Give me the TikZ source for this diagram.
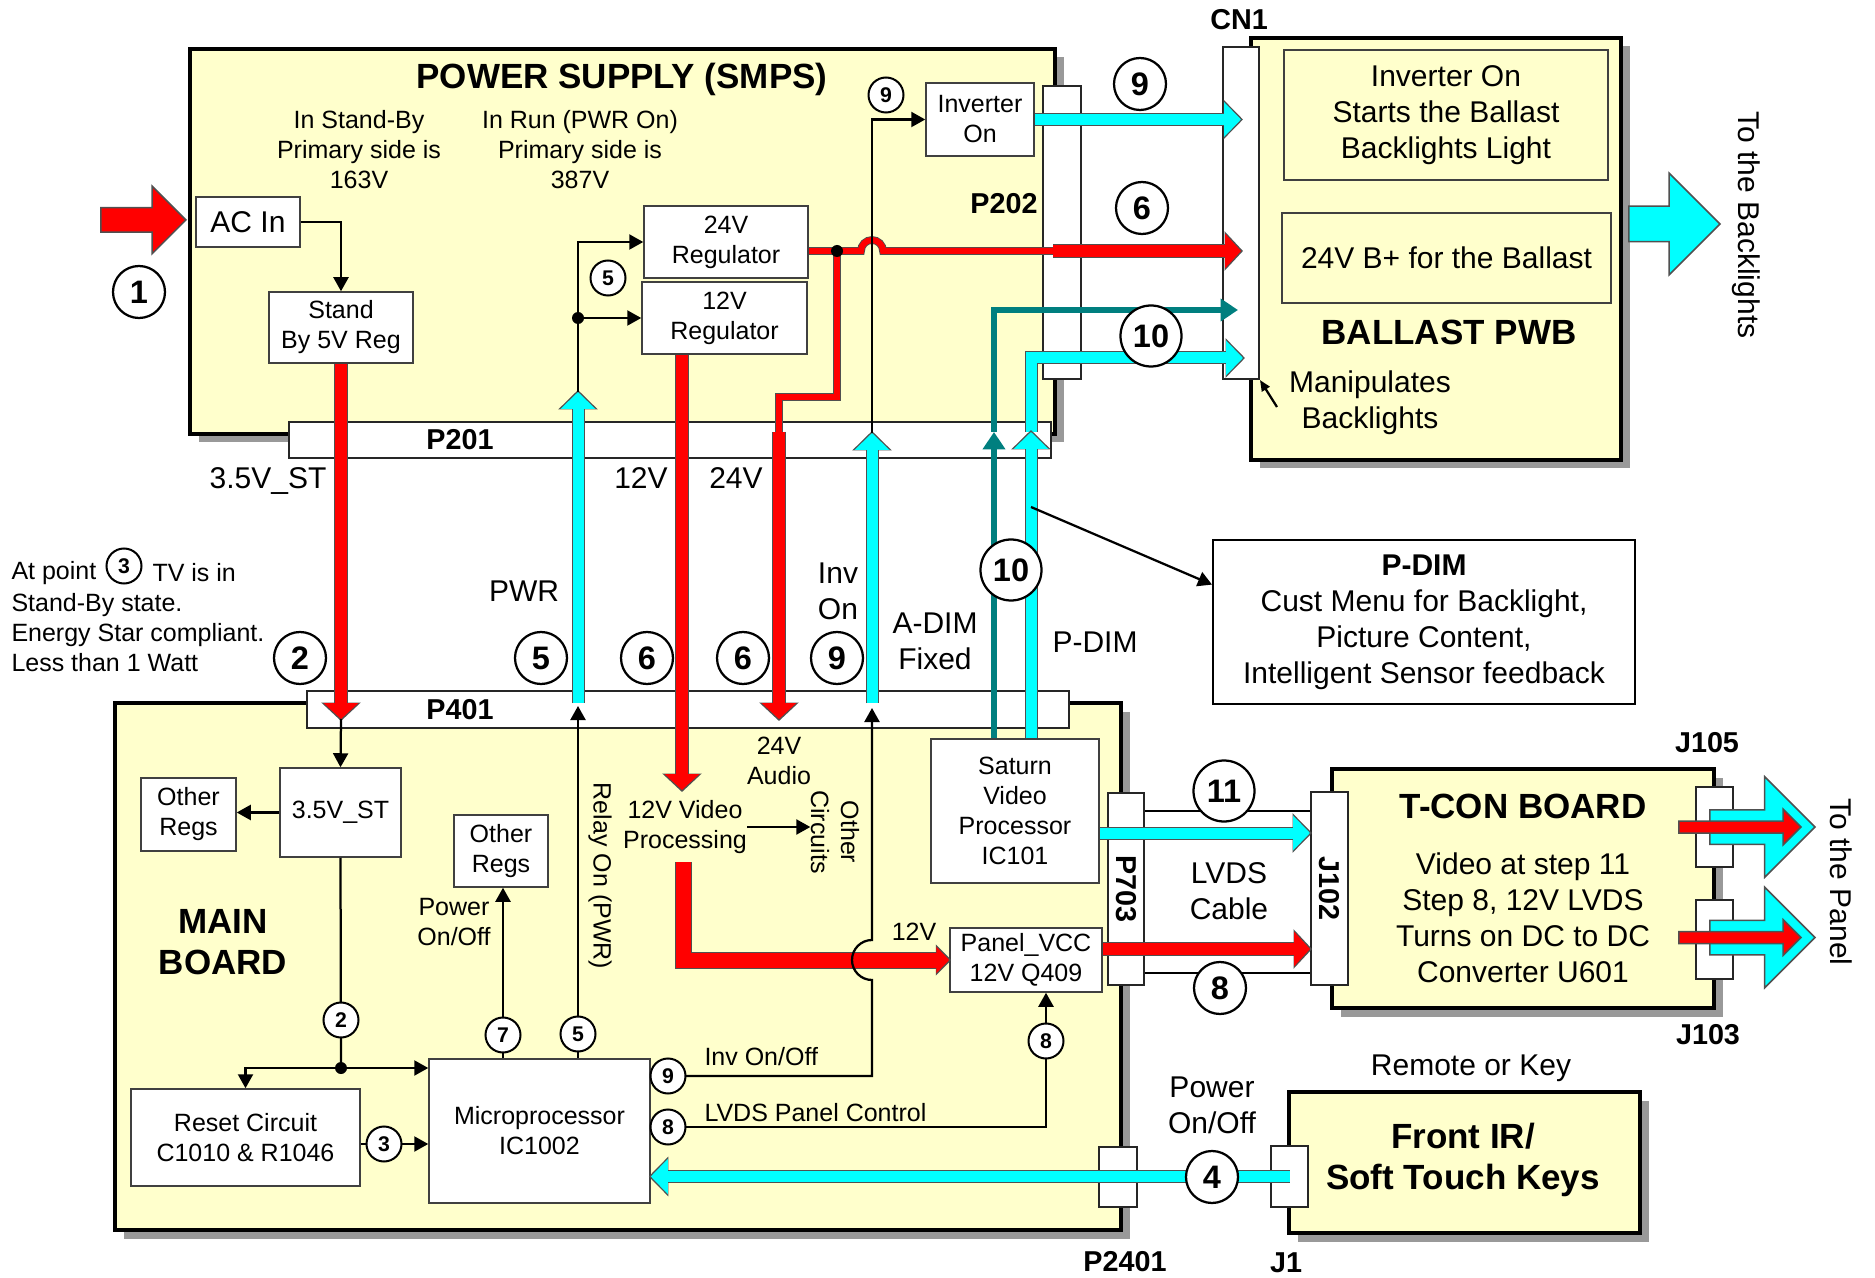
\documentclass[tikz,border=0pt]{standalone}
\usepackage{fontspec}
\setmainfont{Liberation Sans}
\usetikzlibrary{arrows.meta,shapes.arrows,calc}
\definecolor{bd}{HTML}{FFFFCC}
\definecolor{sh}{HTML}{999999}
\definecolor{ol}{HTML}{404040}
\definecolor{rd}{HTML}{FF0000}
\definecolor{cy}{HTML}{00FFFF}
\definecolor{tl}{HTML}{007F7F}
\definecolor{eg}{HTML}{505050}
\newcommand{\fsm}{\fontsize{10pt}{12pt}\selectfont}
\newcommand{\fmd}{\fontsize{12pt}{14.4pt}\selectfont}
\newcommand{\fbg}{\fontsize{14pt}{16.4pt}\selectfont\bfseries}
\newcommand{\fcn}{\fontsize{11.5pt}{13pt}\selectfont\bfseries}
\newcommand{\fnb}{\fontsize{13pt}{14pt}\selectfont\bfseries}
\newcommand{\fns}{\fontsize{8.5pt}{10pt}\selectfont\bfseries}
\pgfdeclarelayer{fg}
\pgfsetlayers{main,fg}
\tikzset{
  wh/.style 2 args={minimum width=#1*0.4pt, minimum height=#2*0.4pt},
  board/.style={draw=black, line width=1.3pt, fill=bd, inner sep=0pt,
    preaction={fill=sh, transform canvas={xshift=3.4pt,yshift=-3.4pt}}},
  wbox/.style={draw=ol, line width=0.6pt, fill=white, inner sep=0pt, align=center, font=\fsm},
  ybox/.style={wbox, fill=bd, font=\fmd},
  plug/.style={draw=black!85, line width=0.8pt, fill=white, inner sep=0pt},
  lbl/.style={inner sep=0pt, align=center, font=\fmd},
  slbl/.style={inner sep=0pt, align=center, font=\fsm},
  clbl/.style={inner sep=0pt, font=\fcn},
  tlbl/.style={inner sep=0pt, align=center, font=\fbg},
  wire/.style={draw=black, line width=0.9pt},
  conn/.style={wire, -{Triangle[length=5.6pt,width=6pt]}},
  numb/.style={circle, draw=black, line width=0.9pt, fill=white, inner sep=0pt,
    minimum size=52*0.4pt, font=\fnb},
  numbw/.style={numb, minimum size=61*0.4pt},
  nums/.style={circle, draw=black, line width=0.8pt, fill=white, inner sep=0pt,
    minimum size=35*0.4pt, font=\fns},
  redbus/.style={draw=rd, line width=4.8pt, -{Triangle[length=6.4pt,width=13.6pt]},
    preaction={draw=eg, line width=5.6pt, shorten >=-0.8pt,
      -{Triangle[length=7.4pt,width=15.4pt]}}},
  cyanbus/.style={draw=cy, line width=4.4pt, -{Triangle[length=6.8pt,width=13.6pt]},
    preaction={draw=eg, line width=5.2pt, shorten >=-0.8pt,
      -{Triangle[length=7.8pt,width=15.4pt]}}},
  tealbus/.style={draw=tl, line width=2.4pt, -{Triangle[length=7pt,width=8.8pt]}},
  redthin/.style={draw=rd, line width=2.4pt, preaction={draw=eg, line width=3.1pt}},
  redwide/.style={draw=rd, line width=6pt, -{Triangle[length=5.2pt,width=10.4pt]},
    preaction={draw=eg, line width=6.8pt, shorten >=-0.8pt,
      -{Triangle[length=6.2pt,width=12.2pt]}}},
  fatarrow/.style={single arrow, single arrow head indent=0pt, inner xsep=0pt,
    draw=eg, line width=0.6pt, anchor=tip},
}

\begin{document}
\begin{tikzpicture}[x=0.4pt,y=-0.4pt]
  \useasboundingbox[fill=white] (0,0) rectangle (1875,1278);
  % boards
  \node[board, wh={865}{385}] (ps) at (622.5,241.5) {};
  \node[board, wh={370}{422}] (ballast) at (1436,249) {};
  \node[board, wh={1006}{527}] (mainb) at (618,966.5) {};
  \node[board, wh={382}{239}] (tcon) at (1523,888.5) {};
  \node[board, wh={351}{141}] (front) at (1464.5,1162.5) {};
  \node[wbox, draw=black, line width=0.8pt, font=\fmd, wh={422}{164}] (pdim) at (1424,622)
    {\textbf{P-DIM}\\Cust Menu for Backlight,\\Picture Content,\\Intelligent Sensor feedback};
  \node[tlbl] (pst) at (622,79) {POWER SUPPLY (SMPS)};
  \node[tlbl] (blt) at (1449,332) {BALLAST PWB};
  \node[tlbl] (mbt) at (223,942) {MAIN\\BOARD};
  \node[tlbl] (tct) at (1523,806) {T-CON BOARD};
  \node[tlbl] (frt) at (1463,1160) {Front IR/\\Soft Touch Keys};

  % blocks
  \node[wbox, font=\fmd, wh={104}{50}] (acin) at (248,222) {AC In};
  \node[wbox, wh={144}{71}] (sby) at (341,327.5) {Stand\\By 5V Reg};
  \node[wbox, wh={164}{72}] (reg24) at (726,242) {24V\\Regulator};
  \node[wbox, wh={165}{72}] (reg12) at (724.5,318) {12V\\Regulator};
  \node[wbox, wh={108}{73}] (invon) at (980,119.5) {Inverter\\On};
  \node[ybox, wh={324}{130}] (bl1) at (1446,115) {Inverter On\\Starts the Ballast\\Backlights Light};
  \node[ybox, wh={329}{90}] (bl2) at (1446.5,258) {24V B+ for the Ballast};
  \node[wbox, wh={121}{89}] (st35) at (340.5,812.5) {3.5V\_ST};
  \node[wbox, wh={95}{73}] (oreg1) at (188.5,814.5) {Other\\Regs};
  \node[wbox, wh={94}{72}] (oreg2) at (501,851) {Other\\Regs};
  \node[wbox, wh={229}{97}] (reset) at (245.5,1137.5) {Reset Circuit\\C1010 \& R1046};
  \node[wbox, wh={221}{144}] (micro) at (539.5,1131) {Microprocessor\\IC1002};
  \node[wbox, wh={168}{144}] (sat) at (1015,811) {Saturn\\Video\\Processor\\IC101};
  \node[wbox, wh={152}{64}] (pvcc) at (1026,960) {Panel\_VCC\\12V Q409};

  % plugs
  \node[plug, wh={762}{36}] (p201) at (670,440) {};
  \node[plug, wh={762}{37}] (p401) at (688,709.5) {};
  \node[plug, wh={38}{293}] (p202) at (1062,232.5) {};
  \node[plug, wh={36}{332}] (cn1) at (1241,213) {};
  \node[plug, wh={36}{192}] (p703) at (1126,889) {};
  \node[plug, wh={37}{193}] (j102) at (1329.5,888.5) {};
  \node[plug, wh={37}{80}] (j105) at (1714.5,827) {};
  \node[plug, wh={37}{79}] (j103) at (1714.5,939.5) {};
  \node[plug, wh={38}{60}] (p2401) at (1118,1177) {};
  \node[plug, wh={37}{61}] (j1) at (1289.5,1176.5) {};
  \node[clbl] (lp201) at (460,440) {P201};
  \node[clbl] (lp401) at (460,710) {P401};
  \node[clbl, anchor=east] (lp202) at (1038,204) {P202};
  \node[clbl] (lcn1) at (1239,20) {CN1};
  \node[clbl, rotate=-90] (lp703) at (p703) {P703};
  \node[clbl, rotate=-90] (lj102) at (j102) {J102};
  \node[clbl] (lj105) at (1707,743) {J105};
  \node[clbl] (lj103) at (1708,1035) {J103};
  \node[clbl] (lp2401) at (1125,1262) {P2401};
  \node[clbl] (lj1) at (1286,1263) {J1};

  % big arrows
  \node[fatarrow, fill=rd, inner ysep=4.6pt, single arrow head extend=8.6pt, minimum height=34pt] (acarr) at (187,220) {};
  \node[fatarrow, fill=cy, inner ysep=6.8pt, single arrow head extend=13.2pt, minimum height=36.4pt] (blarr) at (1721,224) {};
  \node[fatarrow, fill=cy, inner ysep=6.6pt, single arrow head extend=13.2pt, minimum height=42pt] (pna) at (1816,827) {};
  \node[fatarrow, fill=rd, inner ysep=2.1pt, single arrow head extend=4.7pt, minimum height=48.8pt] (pnb) at (1802,827) {};
  \node[fatarrow, fill=cy, inner ysep=6.6pt, single arrow head extend=13.2pt, minimum height=42pt] (pnc) at (1816,937.5) {};
  \node[fatarrow, fill=rd, inner ysep=2.1pt, single arrow head extend=4.7pt, minimum height=48.8pt] (pnd) at (1802,937.5) {};

  % texts
  \node[slbl] (sbytx) at (359,150) {In Stand-By\\Primary side is\\163V};
  \node[slbl] (runtx) at (580,150) {In Run (PWR On)\\Primary side is\\387V};
  \node[lbl] (l35) at (268,481) {3.5V\_ST};
  \node[lbl] (l12) at (641,478) {12V};
  \node[lbl] (l24) at (736,478) {24V};
  \node[slbl, anchor=west] (atp) at (11,573) {At point};
  \node[slbl, anchor=west] (atp2) at (152,573) {TV is in};
  \node[slbl, anchor=west, align=left] (atp3) at (11,633) {Stand-By state.\\Energy Star compliant.\\Less than 1 Watt};
  \node[lbl] (lpwr) at (524,591) {PWR};
  \node[lbl] (linv) at (838,591) {Inv\\On};
  \node[lbl] (ladim) at (935,641) {A-DIM\\Fixed};
  \node[lbl] (lpdim) at (1095,642) {P-DIM};
  \node[lbl, rotate=-90] (lback) at (1746,225) {To the Backlights};
  \node[lbl] (manip) at (1370,403) {Manipulates\\Backlights};
  \node[slbl] (aud) at (779,761) {24V\\Audio};
  \node[slbl] (vid) at (685,827) {12V Video\\Processing};
  \node[slbl, rotate=-90] (oth) at (835,832) {Other\\Circuits};
  \node[slbl, rotate=-90] (relay) at (600,876) {Relay On (PWR)};
  \node[slbl] (pwr7) at (454,922) {Power\\On/Off};
  \node[slbl] (l12b) at (914,932) {12V};
  \node[slbl, anchor=west] (linvo) at (704,1057) {Inv On/Off};
  \node[slbl, anchor=west] (llvds) at (704,1113) {LVDS Panel Control};
  \node[lbl] (lcab) at (1229,891) {LVDS\\Cable};
  \node[lbl] (lpw4) at (1212,1105) {Power\\On/Off};
  \node[lbl] (lrem) at (1471,1068) {Remote or Key};
  \node[lbl] (tctx) at (1523,918) {Video at step 11\\Step 8, 12V LVDS\\Turns on DC to DC\\Converter U601};
  \node[lbl, rotate=-90] (lpan) at (1841,882) {To the Panel};

  % step numbers
  \begin{pgfonlayer}{fg}
  \node[numb] (c1) at (139,292) {1};
  \node[numb] (c9a) at (1140,84) {9};
  \node[numb] (c6a) at (1142,208) {6};
  \node[numbw] (c10a) at (1151,336) {10};
  \node[numb] (c2) at (300,658) {2};
  \node[numb] (c5) at (541,658) {5};
  \node[numb] (c6b) at (647,658) {6};
  \node[numb] (c6c) at (743,658) {6};
  \node[numb] (c9b) at (837,658) {9};
  \node[numbw] (c10b) at (1011,570) {10};
  \node[numbw] (c11) at (1224,791) {11};
  \node[numb] (c8) at (1220,988) {8};
  \node[numb] (c4) at (1212,1177) {4};
  \node[nums] (s5) at (608,278) {5};
  \node[nums] (s9) at (886,95) {9};
  \node[nums] (s3t) at (124,566) {3};
  \node[nums] (s2) at (341,1020) {2};
  \node[nums] (s7) at (503,1035) {7};
  \node[nums] (s5b) at (578,1034) {5};
  \node[nums] (s3) at (384,1144) {3};
  \node[nums] (s9b) at (668,1076) {9};
  \node[nums] (s8b) at (668,1127) {8};
  \node[nums] (s8c) at (1046,1041) {8};
  \end{pgfonlayer}

  % bend and end points
  \coordinate (t35) at (341,719);
  \coordinate (pwrlo) at (578,703);
  \coordinate (pwrhi) at (578,392);
  \coordinate (pwrj) at (578,318);
  \coordinate (pwrtip) at (578,706);
  \coordinate (v12) at (682,790);
  \coordinate (j24) at (837,251);
  \coordinate (j24d) at (837,397);
  \coordinate (a24) at (779,432);
  \coordinate (t24) at (779,719);
  \coordinate (b24) at (1053,251);
  \coordinate (invlo) at (872,703);
  \coordinate (invhi) at (872,433);
  \coordinate (invtip) at (872,708);
  \coordinate (hopc) at (872,960);
  \coordinate (adim) at (994,432);
  \coordinate (adimr) at (1238,310);
  \coordinate (pdt) at (1031,432);
  \coordinate (pdr) at (1243,358);
  \coordinate (pd) at (1031,507);
  \coordinate (mp) at (1277,407);
  \coordinate (stj) at (341,1068);
  \coordinate (vl) at (683,862);
  \coordinate (y11) at (1200,833);
  \coordinate (y8) at (1200,949);
  \coordinate (yl1) at (1200,811);
  \coordinate (yl2) at (1200,973);

  % power supply
  \draw[conn] (acin.east) -| (sby.north);
  \draw[redbus] (sby.south) -- (t35);
  \draw[cyanbus] (pwrlo) -- (pwrhi);
  \draw[conn] (pwrhi) |- (reg24.west);
  \draw[conn] (pwrj) -- (reg12.west);
  \fill (pwrj) circle[radius=2.4pt];
  \draw[redbus] (reg12.south -| v12) -- (v12);
  \draw[redthin] (reg24.east |- j24) -- (j24) -- (j24d) -| (a24);
  \draw[redbus] (a24) -- (t24);
  \draw[redthin] (j24) -- (861,251) arc[start angle=180,end angle=360,radius=11] -- (b24);
  \draw[redbus] (b24) -- (b24 -| cn1);
  \fill (j24) circle[radius=2.4pt];
  \draw[cyanbus] (invlo) -- (invhi);
  \draw[conn] (invhi) |- (invon.west);
  \draw[cyanbus] (invon.east) -- (invon.east -| cn1);
  \draw[tealbus] (adim) |- (adimr);
  \draw[tealbus] (sat.north -| adim) -- (adim);
  \draw[cyanbus] (pdt) |- (pdr);
  \draw[cyanbus] (sat.north -| pdt) -- (pdt);
  \draw[conn] (pd) -- (pdim.170);
  \draw[wire, -{Triangle[length=4.4pt,width=3.6pt]}] (mp) -- (cn1.south east);

  % main board
  \draw[conn] (t35) -- (st35.north);
  \draw[conn] (st35.west) -- (st35.west -| oreg1.east);
  \draw[wire] (st35.south) -- (stj);
  \draw[conn] (stj) -- (stj -| micro.west);
  \draw[conn] (stj) -| (reset.north);
  \fill (stj) circle[radius=2.4pt];
  \draw[conn] (reset.east |- s3) -- (micro.west |- s3);
  \draw[conn] (micro.north -| s7) -- (oreg2.south -| s7);
  \draw[conn] (micro.north -| s5b) -- (pwrtip);
  \draw[redwide] (vl) |- (pvcc.west);
  \draw[conn] (micro.east |- s9b) -- (s9b -| hopc) -- ($(hopc)+(0,20)$)
    arc[start angle=90,end angle=270,radius=20] -- (invtip);
  \draw[conn] (micro.east |- s8b) -| (pvcc.south -| s8c);
  \draw[conn] (vid.east) -- (vid.east -| oth.south);

  % lvds and keys
  \draw[wire] (p703.east |- yl1) -- (j102.west |- yl1);
  \draw[wire] (p703.east |- yl2) -- (j102.west |- yl2);
  \draw[cyanbus] (sat.east |- y11) -- (j102.west |- y11);
  \draw[redbus] (pvcc.east |- y8) -- (j102.west |- y8);
  \draw[cyanbus] (j1.center) -- (micro.east |- j1.center);
\end{tikzpicture}
\end{document}
